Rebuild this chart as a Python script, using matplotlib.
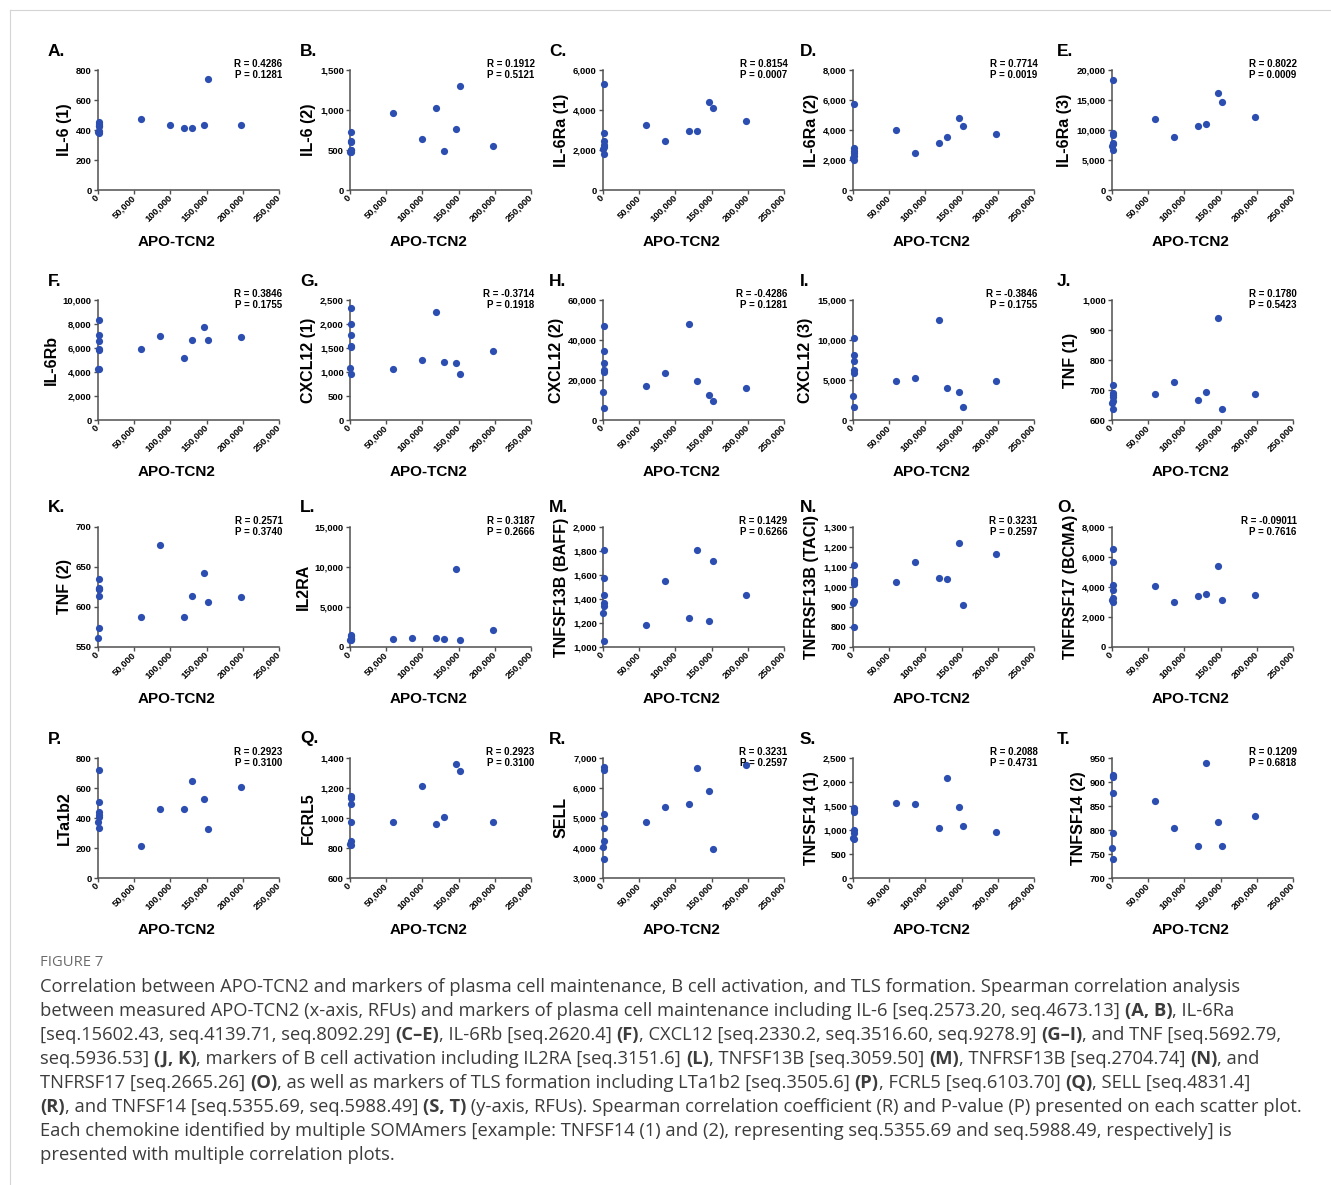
import matplotlib
matplotlib.use('Agg')
from matplotlib import pyplot as plt
from matplotlib.ticker import FuncFormatter, MultipleLocator

W, H = 1331, 1185

# APO-TCN2 (x-axis, RFUs): seven samples near zero, seven higher
apo_low = [900, 700, 1100, 800, 1000, 600, 1200]
apo_high = [59000, 86000, 119000, 130000, 147000, 152000, 197000]
apo_high_b = [59000, 99000, 119000, 130000, 147000, 152000, 197000]

letters = list('ABCDEFGHIJKLMNOPQRST')
markers = ['IL-6 (1)', 'IL-6 (2)', 'IL-6Ra (1)', 'IL-6Ra (2)', 'IL-6Ra (3)',
           'IL-6Rb', 'CXCL12 (1)', 'CXCL12 (2)', 'CXCL12 (3)', 'TNF (1)',
           'TNF (2)', 'IL2RA', 'TNFSF13B (BAFF)', 'TNFRSF13B (TACI)',
           'TNFRSF17 (BCMA)', 'LTa1b2', 'FCRL5', 'SELL', 'TNFSF14 (1)',
           'TNFSF14 (2)']
r_values = ['0.4286', '0.1912', '0.8154', '0.7714', '0.8022', '0.3846',
            '-0.3714', '-0.4286', '-0.3846', '0.1780', '0.2571', '0.3187',
            '0.1429', '0.3231', '-0.09011', '0.2923', '0.2923', '0.3231',
            '0.2088', '0.1209']
p_values = ['0.1281', '0.5121', '0.0007', '0.0019', '0.0009', '0.1755',
            '0.1918', '0.1281', '0.1755', '0.5423', '0.3740', '0.2666',
            '0.6266', '0.2597', '0.7616', '0.3100', '0.3100', '0.2597',
            '0.4731', '0.6818']
y_min = [0, 0, 0, 0, 0, 0, 0, 0, 0, 600, 550, 0, 1000, 700, 0, 0, 600,
         3000, 0, 700]
y_max = [800, 1500, 6000, 8000, 20000, 10000, 2500, 60000, 15000, 1000, 700,
         15000, 2000, 1300, 8000, 800, 1400, 7000, 2500, 950]
y_step = [200, 500, 2000, 2000, 5000, 2000, 500, 20000, 5000, 100, 50, 5000,
          200, 100, 2000, 200, 200, 1000, 500, 50]
alt_x_panels = ['A', 'B', 'G', 'Q']

# marker values (y-axis, RFUs): first 7 match apo_low, last 7 apo_high
il6_1 = [452, 440, 430, 425, 395, 388, 380, 475, 431, 413, 411, 431, 740, 431]
il6_2 = [720, 615, 600, 505, 495, 480, 470, 961, 642, 1028, 489, 762, 1297, 551]
il6ra_1 = [5280, 2850, 2450, 2250, 2150, 2050, 1820,
           3257, 2460, 2975, 2975, 4388, 4088, 3457]
il6ra_2 = [5717, 2800, 2600, 2450, 2300, 2150, 2000,
           3967, 2482, 3147, 3501, 4787, 4277, 3745]
il6ra_3 = [18400, 9450, 9200, 7800, 7600, 7400, 6700,
           11820, 8780, 10720, 10940, 16190, 14640, 12150]
il6rb = [8350, 7100, 6550, 5900, 5850, 4280, 4220,
         5880, 6990, 5140, 6660, 7790, 6690, 6910]
cxcl12_1 = [2334, 2001, 1766, 1551, 1530, 1073, 949,
            1060, 1253, 2258, 1205, 1184, 963, 1447]
cxcl12_2 = [46870, 34570, 28750, 24930, 23930, 13790, 5980,
            16950, 23270, 47870, 19450, 12460, 9640, 15950]
cxcl12_3 = [10300, 8180, 7390, 6200, 5900, 3030, 1660,
            4820, 5230, 12460, 4030, 3530, 1660, 4900]
tnf_1 = [716, 690, 685, 676, 662, 658, 636, 687, 726, 667, 694, 940, 638, 686]
tnf_2 = [635, 624, 622, 614, 574, 561, 623, 587, 677, 588, 614, 643, 606, 612]
il2ra = [1500, 1350, 1150, 1050, 950, 900, 850,
         1050, 1090, 1090, 960, 9760, 920, 2090]
tnfsf13b = [1810, 1575, 1433, 1363, 1341, 1285, 1050,
            1184, 1547, 1240, 1807, 1218, 1718, 1433]
tnfrsf13b = [1110, 1035, 1025, 1015, 928, 920, 800,
             1025, 1124, 1045, 1040, 1220, 908, 1164]
tnfrsf17 = [6547, 5676, 4134, 3821, 3263, 3128, 2972,
            4089, 2972, 3374, 3553, 5430, 3151, 3464]
lta1b2 = [718, 504, 438, 420, 405, 373, 336, 211, 458, 458, 649, 527, 329, 607]
fcrl5 = [1144, 1131, 1093, 971, 844, 829, 820,
         975, 1213, 962, 1009, 1362, 1313, 975]
sell = [6689, 6600, 5144, 4678, 4244, 4033, 3644,
        4878, 5356, 5478, 6656, 5889, 3967, 6756]
tnfsf14_1 = [1450, 1400, 1370, 1010, 940, 840, 805,
             1562, 1542, 1042, 2076, 1472, 1090, 965]
tnfsf14_2 = [915, 912, 910, 878, 794, 762, 739,
             860, 804, 767, 940, 817, 766, 830]

series = [il6_1, il6_2, il6ra_1, il6ra_2, il6ra_3, il6rb, cxcl12_1, cxcl12_2,
          cxcl12_3, tnf_1, tnf_2, il2ra, tnfsf13b, tnfrsf13b, tnfrsf17, lta1b2,
          fcrl5, sell, tnfsf14_1, tnfsf14_2]

caption_lines = [
    [("Correlation between APO-TCN2 and markers of plasma cell maintenance, "
      "B cell activation, and TLS formation. Spearman correlation analysis", False)],
    [("between measured APO-TCN2 (x-axis, RFUs) and markers of plasma cell "
      "maintenance including IL-6 [seq.2573.20, seq.4673.13] ", False),
     ("(A, B)", True), (", IL-6Ra", False)],
    [("[seq.15602.43, seq.4139.71, seq.8092.29] ", False), ("(C\u2013E)", True),
     (", IL-6Rb [seq.2620.4] ", False), ("(F)", True),
     (", CXCL12 [seq.2330.2, seq.3516.60, seq.9278.9] ", False),
     ("(G\u2013I)", True), (", and TNF [seq.5692.79,", False)],
    [("seq.5936.53] ", False), ("(J, K)", True),
     (", markers of B cell activation including IL2RA [seq.3151.6] ", False),
     ("(L)", True), (", TNFSF13B [seq.3059.50] ", False), ("(M)", True),
     (", TNFRSF13B [seq.2704.74] ", False), ("(N)", True), (", and", False)],
    [("TNFRSF17 [seq.2665.26] ", False), ("(O)", True),
     (", as well as markers of TLS formation including LTa1b2 [seq.3505.6] ", False),
     ("(P)", True), (", FCRL5 [seq.6103.70] ", False), ("(Q)", True),
     (", SELL [seq.4831.4]", False)],
    [("(R)", True), (", and TNFSF14 [seq.5355.69, seq.5988.49] ", False),
     ("(S, T)", True),
     (" (y-axis, RFUs). Spearman correlation coefficient (R) and P-value (P) "
      "presented on each scatter plot.", False)],
    [("Each chemokine identified by multiple SOMAmers [example: TNFSF14 (1) "
      "and (2), representing seq.5355.69 and seq.5988.49, respectively] is", False)],
    [("presented with multiple correlation plots.", False)],
]

CHART_FONT = ['Liberation Sans', 'DejaVu Sans']
CAPTION_FONT = ['Open Sans', 'DejaVu Sans']
DOT = '#2c4eb0'
AXIS = '#505050'

col_left = [98, 350, 603, 853, 1112]
col_letter = [48, 300, 549, 800, 1057]
row_top = [70, 300, 527, 758]
AX_W, AX_H = 181, 120


def thousands(v, pos):
    return f"{v:,.0f}"


def draw_panel(fig, i):
    row, col = divmod(i, 5)
    left, top = col_left[col], row_top[row]
    ax = fig.add_axes([left / W, 1 - (top + AX_H) / H, AX_W / W, AX_H / H])

    xs = apo_low + (apo_high_b if letters[i] in alt_x_panels else apo_high)
    ax.scatter(xs, series[i], s=27, color=DOT, linewidths=0, clip_on=False,
               zorder=3)

    ax.set_xlim(0, 250000)
    ax.set_ylim(y_min[i], y_max[i])
    ax.xaxis.set_major_locator(MultipleLocator(50000))
    ax.yaxis.set_major_locator(MultipleLocator(y_step[i]))
    ax.xaxis.set_major_formatter(FuncFormatter(thousands))
    ax.yaxis.set_major_formatter(FuncFormatter(thousands))

    for side in ['top', 'right']:
        ax.spines[side].set_visible(False)
    for side in ['left', 'bottom']:
        ax.spines[side].set_color(AXIS)
        ax.spines[side].set_linewidth(1.1)
    ax.tick_params(direction='out', length=3, width=1.0, color=AXIS, pad=1.5,
                   labelsize=6.8)
    for lab in ax.get_xticklabels() + ax.get_yticklabels():
        lab.set_fontweight('bold')
        lab.set_family(CHART_FONT)
    for lab in ax.get_xticklabels():
        lab.set_rotation(45)
        lab.set_ha('right')
        lab.set_va('center')
        lab.set_rotation_mode('anchor')

    ax.set_ylabel(markers[i], fontsize=11.5, fontweight='bold',
                  family=CHART_FONT, labelpad=3)

    fig.text((left + AX_W / 2 - 12) / W, 1 - (top + AX_H + 52) / H,
             'APO-TCN2', fontsize=11, fontweight='bold', family=CHART_FONT,
             ha='center', va='center')
    fig.text(col_letter[col] / W, 1 - (top - 19) / H, letters[i] + '.',
             fontsize=12.5, fontweight='bold', family=CHART_FONT,
             ha='left', va='center')
    ax.text(1.02, 1.05, f"R = {r_values[i]}", transform=ax.transAxes,
            fontsize=7, fontweight='bold', family=CHART_FONT,
            ha='right', va='center')
    ax.text(1.02, 0.96, f"P = {p_values[i]}", transform=ax.transAxes,
            fontsize=7, fontweight='bold', family=CHART_FONT,
            ha='right', va='center')


def text_width(renderer, fig, s, bold, size):
    # bracket with '|' so leading/trailing spaces are counted
    t = fig.text(0, 0, '|' + s + '|', fontsize=size, family=CAPTION_FONT,
                 fontweight='bold' if bold else 'normal')
    ref = fig.text(0, 0, '||', fontsize=size, family=CAPTION_FONT,
                   fontweight='bold' if bold else 'normal')
    w = t.get_window_extent(renderer).width - ref.get_window_extent(renderer).width
    t.remove()
    ref.remove()
    return w


def draw_caption(fig):
    renderer = fig.canvas.get_renderer()
    size = 13.2
    fig.text(40 / W, 1 - 963 / H, 'FIGURE 7', fontsize=10.6, color='#6a6a6a',
             family=CAPTION_FONT, ha='left', va='center')
    for n, line in enumerate(caption_lines):
        x = 40
        y = 987 + 24 * n
        for s, bold in line:
            fig.text(x / W, 1 - y / H, s, fontsize=size, color='#3c3c3c',
                     family=CAPTION_FONT, ha='left', va='center',
                     fontweight='bold' if bold else 'normal')
            x += text_width(renderer, fig, s, bold, size)


def main():
    fig = plt.figure(figsize=(W / 100, H / 100), dpi=100)
    fig.patch.set_facecolor('white')

    # thin frame at the top and left edge
    fig.add_artist(plt.Line2D([10 / W, 1], [1 - 10 / H, 1 - 10 / H],
                              color='#d4d4d4', linewidth=0.8))
    fig.add_artist(plt.Line2D([10 / W, 10 / W], [0, 1 - 10 / H],
                              color='#d4d4d4', linewidth=0.8))

    for i in range(len(letters)):
        draw_panel(fig, i)

    draw_caption(fig)
    fig.savefig('out.png', dpi=100)


if __name__ == '__main__':
    main()
